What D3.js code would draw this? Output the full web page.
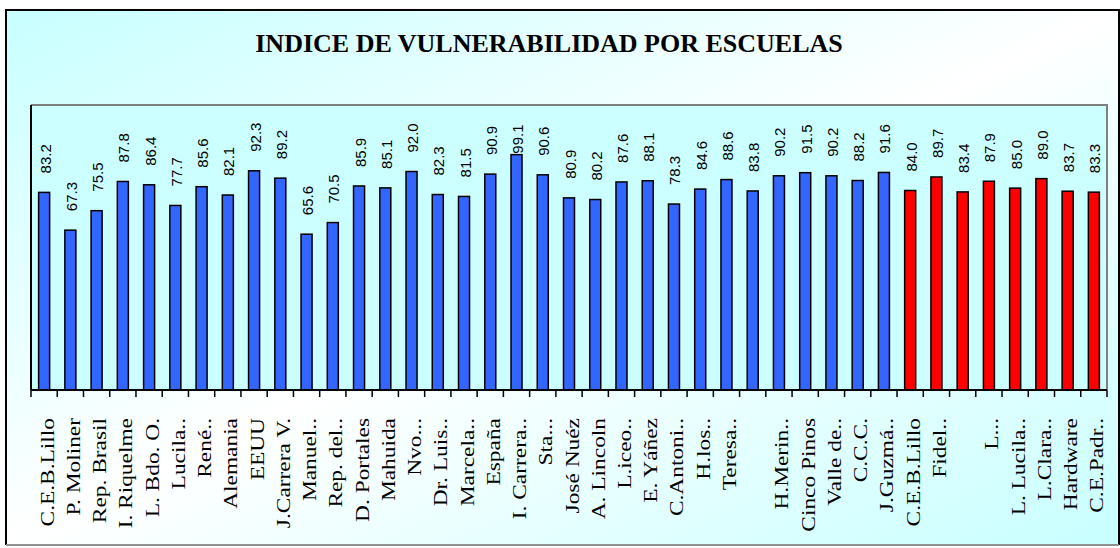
<!DOCTYPE html>
<html>
<head>
<meta charset="utf-8">
<script src="https://cdn.jsdelivr.net/npm/d3@7"></script>
<style>
  body { margin: 0; background: #ffffff; }
  svg { display: block; }
</style>
</head>
<body>
<svg id="chart"></svg>
<script>
// chart data
var schools = ["C.E.B.Lillo", "P. Moliner", "Rep. Brasil", "I. Riquelme", "L. Bdo. O.", "Lucila..", "René..",
  "Alemania", "EEUU", "J.Carrera V.", "Manuel..", "Rep. del..", "D. Portales", "Mahuida", "Nvo...",
  "Dr. Luis..", "Marcela..", "España", "I. Carrera..", "Sta...", "José Nuéz", "A. Lincoln", "L.iceo..",
  "E. Yáñez", "C.Antoni..", "H.los..", "Teresa..", "", "H.Merin..", "Cinco Pinos", "Valle de..",
  "C.C.C.", "J.Guzmá..", "C.E.B.Lillo", "Fidel..", "", "L...", "L. Lucila..", "L.Clara..",
  "Hardware", "C.E.Padr.."]
var values = [83.2, 67.3, 75.5, 87.8, 86.4, 77.7, 85.6, 82.1, 92.3, 89.2, 65.6, 70.5, 85.9, 85.1,
  92.0, 82.3, 81.5, 90.9, 99.1, 90.6, 80.9, 80.2, 87.6, 88.1, 78.3, 84.6, 88.6, 83.8, 90.2, 91.5,
  90.2, 88.2, 91.6, 84.0, 89.7, 83.4, 87.9, 85.0, 89.0, 83.7, 83.3]
// group of each school: 0 = blue, 1 = red
var groups = [0,0,0,0,0,0,0,0,0,0,0,0,0,0,0,0,0,0,0,0,0,0,0,0,0,0,0,0,0,0,0,0,0,1,1,1,1,1,1,1,1]
var titleText = "INDICE DE VULNERABILIDAD POR ESCUELAS"

var width = 1120,
    height = 548
var plot = {left: 31, right: 1107, top: 105, bottom: 390}

var svg = d3.select("#chart")
    .attr("width", width)
    .attr("height", height)

// background gradient of the chart area
var defs = svg.append("defs")
var grad = defs.append("linearGradient")
    .attr("id", "bgGrad")
    .attr("x1", 0).attr("y1", 0)
    .attr("x2", 1).attr("y2", 1)
grad.append("stop").attr("offset", "0%").attr("stop-color", "#c8ffff")
grad.append("stop").attr("offset", "50%").attr("stop-color", "#ffffff")
grad.append("stop").attr("offset", "100%").attr("stop-color", "#c8ffff")

svg.append("rect")
    .attr("x", 6).attr("y", 10)
    .attr("width", 1113).attr("height", 535)
    .attr("fill", "url(#bgGrad)")
    .attr("stroke", "none")
// outer frame: dark top/left/right, grey bottom
svg.append("path")
    .attr("d", "M6,545 L6,10 L1119,10 L1119,545")
    .attr("fill", "none")
    .attr("stroke", "#000")
    .attr("stroke-width", 2)
svg.append("line")
    .attr("x1", 6).attr("x2", 1119)
    .attr("y1", 545).attr("y2", 545)
    .attr("stroke", "#909090")
    .attr("stroke-width", 2)

// title
svg.append("text")
    .attr("x", 549)
    .attr("y", 52)
    .attr("text-anchor", "middle")
    .style("font-family", "'Liberation Serif', 'Times New Roman', serif")
    .style("font-weight", "bold")
    .style("font-size", "26px")
    .text(titleText)

// plot area
svg.append("rect")
    .attr("x", plot.left).attr("y", plot.top)
    .attr("width", plot.right - plot.left)
    .attr("height", plot.bottom - plot.top)
    .attr("fill", "#ccffff")
svg.append("path")
    .attr("d", "M" + plot.left + "," + plot.top + " L" + plot.right + "," + plot.top + " L" + plot.right + "," + plot.bottom)
    .attr("fill", "none")
    .attr("stroke", "#808080")
    .attr("stroke-width", 2)

// scales
var x = d3.scaleBand()
    .domain(d3.range(schools.length))
    .range([plot.left, plot.right])
    .paddingInner(0.58)
    .paddingOuter(0.29)

var y = d3.scaleLinear()
    .domain([0, 120])
    .range([plot.bottom, plot.top])

var colors = ["#3366ff", "#ff0000"]

// bars
svg.selectAll("rect.bar")
    .data(values)
  .enter()
  .append("rect")
    .attr("class", "bar")
    .attr("x", function(d, i) { return x(i) })
    .attr("y", function(d) { return y(d) })
    .attr("width", x.bandwidth())
    .attr("height", function(d) { return plot.bottom - y(d) })
    .attr("fill", function(d, i) { return colors[groups[i]] })
    .attr("stroke", "#000")
    .attr("stroke-width", 1.5)

// value labels, rotated
svg.selectAll("text.val")
    .data(values)
  .enter()
  .append("text")
    .attr("class", "val")
    .attr("transform", function(d, i) {
      var cx = x(i) + x.bandwidth() / 2
      var yy = y(d) - 19
      // keep the label inside the plot area
      if (yy - 30 < plot.top + 15) yy = y(d) - 1
      return "translate(" + cx + "," + yy + ") rotate(-90)"
    })
    .attr("y", 6.5)
    .style("font-family", "'Liberation Sans', Arial, sans-serif")
    .style("font-size", "15px")
    .text(function(d) { return d.toFixed(1) })

// x axis line and ticks
var step = x.step()
var tickPos = d3.range(schools.length + 1).map(function(k) {
  return plot.left + k * step
})
svg.append("line")
    .attr("x1", plot.left).attr("x2", plot.right)
    .attr("y1", plot.bottom).attr("y2", plot.bottom)
    .attr("stroke", "#000")
    .attr("stroke-width", 2)
svg.append("line")
    .attr("x1", plot.left).attr("x2", plot.left)
    .attr("y1", plot.top).attr("y2", plot.bottom)
    .attr("stroke", "#000")
    .attr("stroke-width", 2)
svg.selectAll("line.tick")
    .data(tickPos)
  .enter()
  .append("line")
    .attr("class", "tick")
    .attr("x1", function(d) { return d })
    .attr("x2", function(d) { return d })
    .attr("y1", plot.bottom)
    .attr("y2", plot.bottom + 7)
    .attr("stroke", "#000")
    .attr("stroke-width", 1.5)

// category labels
svg.selectAll("text.cat")
    .data(schools)
  .enter()
  .append("text")
    .attr("class", "cat")
    .attr("transform", function(d, i) {
      var cx = x(i) + x.bandwidth() / 2
      return "translate(" + cx + "," + 418 + ") rotate(-90) scale(1.2,1)"
    })
    .attr("y", 9.5)
    .attr("text-anchor", "end")
    .style("font-family", "'Liberation Serif', 'Times New Roman', serif")
    .style("font-size", "19.5px")
    .text(function(d) { return d })
</script>
</body>
</html>
